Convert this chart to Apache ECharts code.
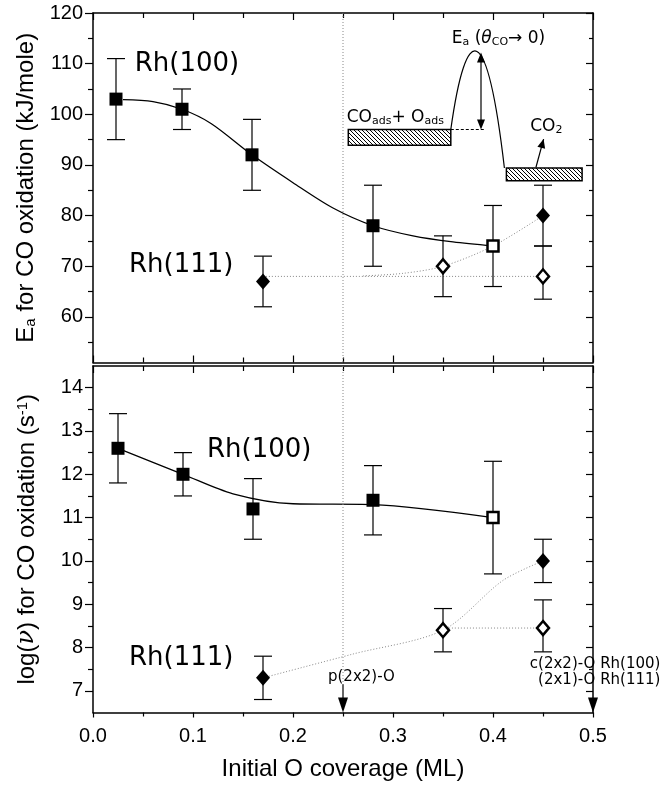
<!DOCTYPE html>
<html>
<head>
<meta charset="utf-8">
<title>CO oxidation on Rh</title>
<script src="https://cdn.jsdelivr.net/npm/echarts@6/dist/echarts.min.js"></script>
<style>
  html, body { margin: 0; padding: 0; background: #fff; }
  #chart { width: 661px; height: 785px; }
</style>
</head>
<body>
<div id="chart"></div>
<script>
// ---- data ----
// top panel: activation energy (kJ/mole)
var eaRh100X = [0.023, 0.089, 0.159, 0.28];
var eaRh100 = [103, 101, 92, 78];
var eaRh100Lo = [95, 97, 85, 70];
var eaRh100Hi = [111, 105, 99, 86];
var eaRh100OpenX = [0.40];
var eaRh100Open = [74];
var eaRh100OpenLo = [66];
var eaRh100OpenHi = [82];

var eaRh111X = [0.17, 0.45];
var eaRh111 = [67, 80];
var eaRh111Lo = [62, 74];
var eaRh111Hi = [72, 86];
var eaRh111OpenX = [0.35, 0.45];
var eaRh111Open = [70, 68];
var eaRh111OpenLo = [64, 63.5];
var eaRh111OpenHi = [76, 74];

// guide curves
var eaFit100X = [0.03, 0.06, 0.089, 0.118, 0.159, 0.2, 0.24, 0.28, 0.32, 0.36, 0.40];
var eaFit100 = [102.9, 102.5, 101, 98.2, 92, 86.5, 81.5, 78, 76, 74.8, 74];
var eaFlat111X = [0.17, 0.45];
var eaFlat111 = [68, 68];
var eaFit111X = [0.27, 0.31, 0.35, 0.40, 0.45];
var eaFit111 = [68.1, 68.6, 70, 74, 80];

// bottom panel: log(rate)
var rRh100X = [0.025, 0.09, 0.16, 0.28];
var rRh100 = [12.6, 12.0, 11.2, 11.4];
var rRh100Lo = [11.8, 11.5, 10.5, 10.6];
var rRh100Hi = [13.4, 12.5, 11.9, 12.2];
var rRh100OpenX = [0.40];
var rRh100Open = [11.0];
var rRh100OpenLo = [9.7];
var rRh100OpenHi = [12.3];

var rRh111X = [0.17, 0.45];
var rRh111 = [7.3, 10.0];
var rRh111Lo = [6.8, 9.5];
var rRh111Hi = [7.8, 10.5];
var rRh111OpenX = [0.35, 0.45];
var rRh111Open = [8.4, 8.45];
var rRh111OpenLo = [7.9, 7.9];
var rRh111OpenHi = [8.9, 9.1];

var rFit100X = [0.025, 0.09, 0.14, 0.2, 0.28, 0.40];
var rFit100 = [12.6, 12.0, 11.55, 11.32, 11.3, 11.0];
var rFit111X = [0.17, 0.26, 0.35, 0.41, 0.45];
var rFit111 = [7.3, 7.85, 8.4, 9.55, 10.0];
var rFlat111X = [0.35, 0.45];
var rFlat111 = [8.45, 8.45];

// axis ticks
var eaTicks = [60, 70, 80, 90, 100, 110, 120];
var eaMinor = [55, 65, 75, 85, 95, 105, 115];
var rTicks = [7, 8, 9, 10, 11, 12, 13, 14];
var rMinor = [7.5, 8.5, 9.5, 10.5, 11.5, 12.5, 13.5];

var ARIAL = "'Liberation Sans', Arial, sans-serif";
var SANS = "'DejaVu Sans', sans-serif";

function zip(xs, ys) {
  return xs.map(function (x, i) { return [x, ys[i]]; });
}

// hatch tile for the energy levels
var hatch = document.createElement("canvas");
hatch.width = 4;
hatch.height = 4;
(function () {
  var g = hatch.getContext("2d");
  g.strokeStyle = "#000";
  g.lineWidth = 1;
  g.beginPath();
  g.moveTo(-1, -1); g.lineTo(5, 5);
  g.moveTo(-1, 3); g.lineTo(1, 5);
  g.moveTo(3, -1); g.lineTo(5, 1);
  g.stroke();
})();

var chart = echarts.init(document.getElementById("chart"));

function xAx(grid, pos, inside, labels) {
  return {
    type: "value", gridIndex: grid, position: pos, min: 0, max: 0.5, interval: 0.1,
    axisLine: { onZero: false, lineStyle: { color: "#000", width: 1.5 } },
    axisTick: { inside: inside, length: inside ? 7 : 5, lineStyle: { color: "#000", width: 1.2 } },
    minorTick: { show: true, splitNumber: 2, length: inside ? 5 : 4, lineStyle: { color: "#000", width: 1.2 } },
    axisLabel: {
      show: labels, margin: 14, fontSize: 20, fontFamily: ARIAL, color: "#000",
      formatter: function (v) { return v.toFixed(1); }
    },
    splitLine: { show: false }
  };
}

function yAx(grid, pos, min, max, ticks, len, inside, labels, line) {
  return {
    type: "value", gridIndex: grid, position: pos, min: min, max: max,
    axisLine: { show: line, onZero: false, lineStyle: { color: "#000", width: 1.5 } },
    axisTick: { show: true, inside: inside, length: len, customValues: ticks, lineStyle: { color: "#000", width: 1.2 } },
    axisLabel: { show: labels, customValues: ticks, margin: 10, fontSize: 20, fontFamily: ARIAL, color: "#000" },
    splitLine: { show: false }
  };
}

function errBars(xs, lo, hi, xi, yi) {
  return {
    type: "custom", xAxisIndex: xi, yAxisIndex: yi, z: 3, silent: true,
    data: xs.map(function (x, i) { return [x, lo[i], hi[i]]; }),
    renderItem: function (params, api) {
      var a = api.coord([api.value(0), api.value(1)]);
      var b = api.coord([api.value(0), api.value(2)]);
      var w = 9;
      var st = { stroke: "#000", lineWidth: 1.2 };
      return {
        type: "group",
        children: [
          { type: "line", shape: { x1: a[0], y1: a[1], x2: b[0], y2: b[1] }, style: st },
          { type: "line", shape: { x1: a[0] - w, y1: a[1], x2: a[0] + w, y2: a[1] }, style: st },
          { type: "line", shape: { x1: b[0] - w, y1: b[1], x2: b[0] + w, y2: b[1] }, style: st }
        ]
      };
    }
  };
}

function head(tip, from, len, hw) {
  var dx = tip[0] - from[0], dy = tip[1] - from[1];
  var d = Math.sqrt(dx * dx + dy * dy);
  var ux = dx / d, uy = dy / d;
  var bx = tip[0] - ux * len, by = tip[1] - uy * len;
  return {
    type: "polygon",
    shape: { points: [tip, [bx - uy * hw, by + ux * hw], [bx + uy * hw, by - ux * hw]] },
    style: { fill: "#000" }
  };
}

function seg(a, b, st) {
  return { type: "line", shape: { x1: a[0], y1: a[1], x2: b[0], y2: b[1] }, style: st };
}

function label(p, text, size, align, rich) {
  return {
    type: "text", x: p[0], y: p[1],
    style: {
      text: text, fill: "#000", fontSize: size, fontFamily: SANS,
      align: align || "left", verticalAlign: "middle", rich: rich
    }
  };
}

var subRich = {
  s: { fontSize: 11, fontFamily: SANS, verticalAlign: "bottom", padding: [7, 0, 0, 0] },
  t: { fontSize: 17, fontFamily: SANS, fontStyle: "italic" }
};

function topNotes(params, api) {
  var c = function (x, y) { return api.coord([x, y]); };
  var solid = { stroke: "#000", lineWidth: 1.2 };
  var lA = c(0.2553, 97.0), lB = c(0.3578, 93.9);
  var rA = c(0.4134, 89.4), rB = c(0.4891, 86.9);
  var p0 = c(0.3578, 97.0), p1 = c(0.4114, 89.4);
  var c1 = c(0.3733, 118.8), c2 = c(0.394, 118.8);
  var top = c(0.388, 112.2), bot = c(0.388, 97.0);
  var co2a = c(0.4429, 89.5), co2b = c(0.4506, 95.1);
  return {
    type: "group",
    children: [
      seg(c(0.25, 120), c(0.25, 51), { stroke: "#888", lineWidth: 1, lineDash: [1, 2] }),
      { type: "rect", shape: { x: lA[0], y: lA[1], width: lB[0] - lA[0], height: lB[1] - lA[1] },
        style: { fill: { image: hatch, repeat: "repeat" }, stroke: "#000", lineWidth: 1.5 } },
      { type: "rect", shape: { x: rA[0], y: rA[1], width: rB[0] - rA[0], height: rB[1] - rA[1] },
        style: { fill: { image: hatch, repeat: "repeat" }, stroke: "#000", lineWidth: 1.5 } },
      { type: "bezierCurve",
        shape: { x1: p0[0], y1: p0[1], cpx1: c1[0], cpy1: c1[1], cpx2: c2[0], cpy2: c2[1], x2: p1[0], y2: p1[1] },
        style: { stroke: "#000", lineWidth: 1.2, fill: null } },
      seg(p0, c(0.392, 97.0), { stroke: "#000", lineWidth: 1, lineDash: [3, 2] }),
      seg([top[0], top[1] + 9], [bot[0], bot[1] - 9], solid),
      head(top, bot, 10, 4),
      head(bot, top, 10, 4),
      seg(co2a, [co2b[0], co2b[1]], solid),
      head(co2b, co2a, 9, 4),
      label(c(0.3588, 114.9), "E{s|a} ({t|θ}{s|CO}→ 0)", 17, "left", subRich),
      label(c(0.2537, 99.3), "CO{s|ads}+ O{s|ads}", 17, "left", subRich),
      label(c(0.4372, 97.6), "CO{s|2}", 17, "left", subRich),
      label(c(0.0418, 109.8), "Rh(100)", 26),
      label(c(0.036, 70.2), "Rh(111)", 26)
    ]
  };
}

function botNotes(params, api) {
  var c = function (x, y) { return api.coord([x, y]); };
  var solid = { stroke: "#000", lineWidth: 1.2 };
  return {
    type: "group",
    children: [
      seg(c(0.25, 14.5), c(0.25, 7.15), { stroke: "#888", lineWidth: 1, lineDash: [1, 2] }),
      seg(c(0.25, 7.15), c(0.25, 6.8), solid),
      head(c(0.25, 6.5), c(0.25, 7.0), 15, 5),
      head(c(0.5, 6.5), c(0.5, 7.0), 15, 5),
      label(c(0.235, 7.32), "p(2x2)-O", 15),
      label(c(0.5674, 7.62), "c(2x2)-O Rh(100)", 15, "right"),
      label(c(0.5674, 7.25), "(2x1)-O Rh(111)", 15, "right"),
      label(c(0.114, 12.55), "Rh(100)", 26),
      label(c(0.036, 7.76), "Rh(111)", 26)
    ]
  };
}

function curve(xs, ys, xi, yi, dotted) {
  return {
    type: "line", xAxisIndex: xi, yAxisIndex: yi, data: zip(xs, ys),
    smooth: 0.3, symbol: "none", silent: true, z: 2,
    lineStyle: dotted ? { color: "#888", width: 1, type: [1, 2] } : { color: "#000", width: 1.3 }
  };
}

function marks(xs, ys, xi, yi, shape, open) {
  var size = shape === "rect" ? (open ? 11 : 13) : (open ? [12, 14] : [14, 16]);
  return {
    type: "scatter", xAxisIndex: xi, yAxisIndex: yi, data: zip(xs, ys),
    symbol: shape, symbolSize: size, silent: true, z: 4,
    itemStyle: open
      ? { color: "#fff", borderColor: "#000", borderWidth: 2.5, opacity: 1 }
      : { color: "#000", opacity: 1 }
  };
}

function notes(fn, xi, yi, pt) {
  return { type: "custom", xAxisIndex: xi, yAxisIndex: yi, data: [pt], renderItem: fn, z: 5, silent: true };
}

var option = {
  animation: false,
  backgroundColor: "#fff",
  grid: [
    { left: 93, right: 68, top: 13, height: 349.5 },
    { left: 93, right: 68, top: 366, height: 346.5 }
  ],
  xAxis: [
    xAx(0, "bottom", true, false),
    xAx(0, "top", true, false),
    Object.assign(xAx(1, "bottom", false, true), {
      name: "Initial O coverage (ML)", nameLocation: "middle", nameGap: 45,
      nameTextStyle: { fontSize: 24, fontFamily: ARIAL, color: "#000" }
    }),
    xAx(1, "top", true, false)
  ],
  yAxis: [
    Object.assign(yAx(0, "left", 51, 120, eaTicks, 8, false, true, true), {
      name: "E{s|a} for CO oxidation (kJ/mole)", nameLocation: "middle", nameGap: 54, nameRotate: 90,
      nameTextStyle: {
        fontSize: 24, fontFamily: ARIAL, color: "#000",
        rich: { s: { fontSize: 15, fontFamily: ARIAL, verticalAlign: "bottom" } }
      }
    }),
    yAx(0, "left", 51, 120, eaMinor, 5, false, false, false),
    yAx(0, "right", 51, 120, eaTicks, 7, true, false, true),
    yAx(0, "right", 51, 120, eaMinor, 4, true, false, false),
    Object.assign(yAx(1, "left", 6.5, 14.5, rTicks, 8, false, true, true), {
      name: "log({i|ν}) for CO oxidation (s{u|-1})", nameLocation: "middle", nameGap: 54, nameRotate: 90,
      nameTextStyle: {
        fontSize: 24, fontFamily: ARIAL, color: "#000",
        rich: {
          i: { fontSize: 24, fontFamily: "'DejaVu Serif', serif", fontStyle: "italic" },
          u: { fontSize: 15, fontFamily: ARIAL, verticalAlign: "top" }
        }
      }
    }),
    yAx(1, "left", 6.5, 14.5, rMinor, 5, false, false, false),
    yAx(1, "right", 6.5, 14.5, rTicks, 7, true, false, true),
    yAx(1, "right", 6.5, 14.5, rMinor, 4, true, false, false)
  ],
  series: [
    // top panel
    curve(eaFit100X, eaFit100, 0, 0, false),
    curve(eaFlat111X, eaFlat111, 0, 0, true),
    curve(eaFit111X, eaFit111, 0, 0, true),
    errBars(eaRh100X, eaRh100Lo, eaRh100Hi, 0, 0),
    errBars(eaRh100OpenX, eaRh100OpenLo, eaRh100OpenHi, 0, 0),
    errBars(eaRh111X, eaRh111Lo, eaRh111Hi, 0, 0),
    errBars(eaRh111OpenX, eaRh111OpenLo, eaRh111OpenHi, 0, 0),
    marks(eaRh100X, eaRh100, 0, 0, "rect", false),
    marks(eaRh100OpenX, eaRh100Open, 0, 0, "rect", true),
    marks(eaRh111X, eaRh111, 0, 0, "diamond", false),
    marks(eaRh111OpenX, eaRh111Open, 0, 0, "diamond", true),
    notes(topNotes, 0, 0, [0.3, 100]),
    // bottom panel
    curve(rFit100X, rFit100, 2, 4, false),
    curve(rFit111X, rFit111, 2, 4, true),
    curve(rFlat111X, rFlat111, 2, 4, true),
    errBars(rRh100X, rRh100Lo, rRh100Hi, 2, 4),
    errBars(rRh100OpenX, rRh100OpenLo, rRh100OpenHi, 2, 4),
    errBars(rRh111X, rRh111Lo, rRh111Hi, 2, 4),
    errBars(rRh111OpenX, rRh111OpenLo, rRh111OpenHi, 2, 4),
    marks(rRh100X, rRh100, 2, 4, "rect", false),
    marks(rRh100OpenX, rRh100Open, 2, 4, "rect", true),
    marks(rRh111X, rRh111, 2, 4, "diamond", false),
    marks(rRh111OpenX, rRh111Open, 2, 4, "diamond", true),
    notes(botNotes, 2, 4, [0.3, 10])
  ]
};

chart.setOption(option);
</script>
</body>
</html>
